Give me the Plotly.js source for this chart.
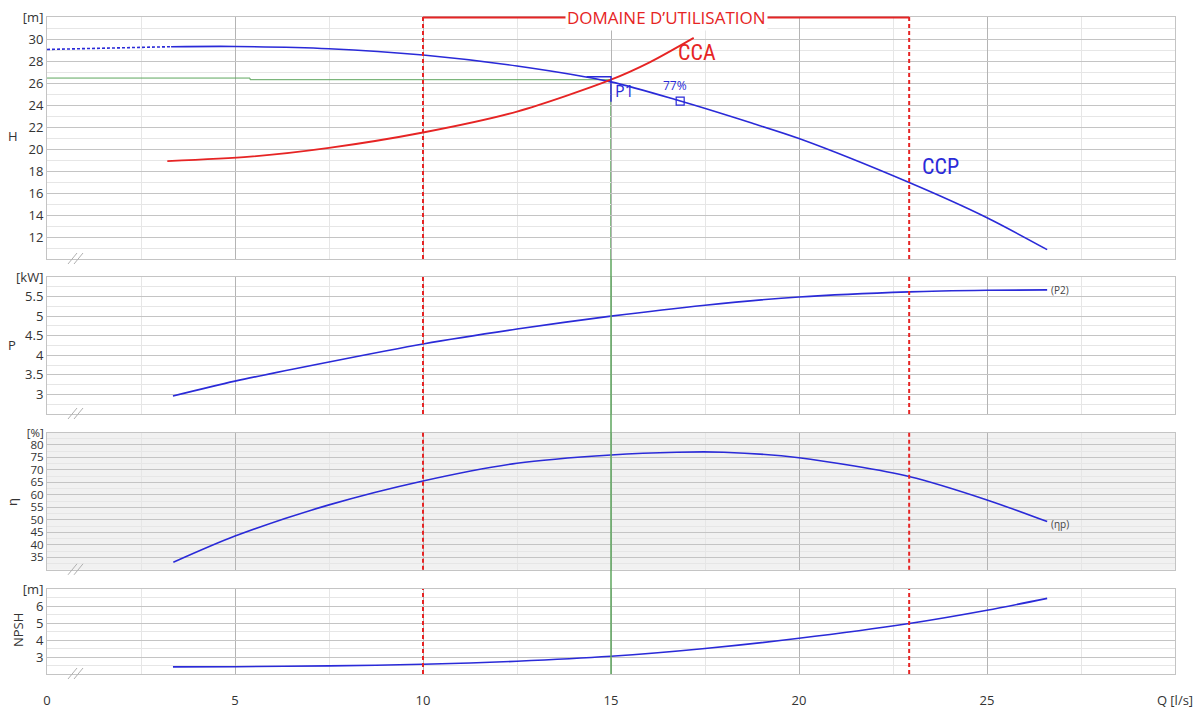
<!DOCTYPE html>
<html>
<head>
<meta charset="utf-8">
<script src="https://cdn.plot.ly/plotly-3.0.1.min.js"></script>
<style>html,body{margin:0;padding:0;background:#fff;}#chart{width:1201px;height:715px;}</style>
</head>
<body>
<div id="chart"></div>
<script>
// ---- data ----
const qTicks = [0, 5, 10, 15, 20, 25, 30];
const qTickText = ['0', '5', '10', '15', '20', '25', 'Q [l/s]'];

// pump head curve (CCP)
const qH = [3.3, 5, 7.5, 10, 12.5, 15, 16.8, 18.7, 20, 22.93, 25, 26.6];
const hH = [29.3, 29.32, 29.12, 28.55, 27.55, 26.1, 24.4, 22.4, 20.95, 16.95, 13.75, 10.85];
// dashed extension of head curve
const qHd = [0, 3.3];
const hHd = [29.05, 29.3];

// system curve (CCA)
const qS = [3.2, 5.4, 7.5, 10, 12.5, 15, 16.04, 17.2];
const hS = [18.9, 19.3, 20.1, 21.5, 23.4, 26.3, 27.9, 30.1];

// power P2
const qP = [3.35, 5, 7.5, 10, 12.5, 15, 17.5, 20, 22.93, 25, 26.6];
const pP = [2.96, 3.34, 3.83, 4.29, 4.67, 5.0, 5.28, 5.49, 5.62, 5.66, 5.67];

// efficiency
const qE = [3.36, 5, 7.5, 10, 12.5, 15, 16.75, 18, 20, 22.95, 25, 26.6];
const eE = [33.0, 43.5, 56.0, 65.6, 72.7, 76.0, 77.1, 77.1, 74.9, 67.3, 58.0, 49.3];

// NPSH
const qN = [3.35, 5, 7.5, 10, 12.5, 15, 17.5, 20, 22.93, 25, 26.6];
const nN = [2.42, 2.43, 2.48, 2.57, 2.75, 3.04, 3.5, 4.1, 4.97, 5.75, 6.45];

// operating point and references
const qOp = 15;
const hOp = 26.2;
const qGreen = [-0.1, 5.4, 5.4, 15];
const hGreen = [26.45, 26.45, 26.3, 26.3];
const qTol = [14.35, 15, 15];
const hTol = [26.57, 26.57, 24.3];
const qBest = [16.84];
const hBest = [24.36];
const domainQ = [10, 22.93];

const hTicks = [12, 14, 16, 18, 20, 22, 24, 26, 28, 30, 32];
const hTickText = ['12', '14', '16', '18', '20', '22', '24', '26', '28', '30', '[m]'];
const pTicks = [3, 3.5, 4, 4.5, 5, 5.5, 6];
const pTickText = ['3', '3.5', '4', '4.5', '5', '5.5', '[kW]'];
const eTicks = [35, 40, 45, 50, 55, 60, 65, 70, 75, 80, 85];
const eTickText = ['35', '40', '45', '50', '55', '60', '65', '70', '75', '80', '[%]'];
const nTicks = [3, 4, 5, 6, 7];
const nTickText = ['3', '4', '5', '6', '[m]'];

// ---- styling ----
const BLUE = '#2a2ad8';
const RED = '#e62424';
const GREEN = '#5ea65e';
const GRID = '#c4c4c4';
const MINOR = '#e6e6e6';
const BORDER = '#c4c4c4';
const FONT = 'Open Sans, Noto Sans, DejaVu Sans, sans-serif';

const H_RANGE = [10, 32], P_RANGE = [2.5, 6.0], E_RANGE = [30, 85], N_RANGE = [2, 7];

const PT = 17, PB = 674; // plot area top/bottom in px
const py = v => (PB - v) / (PB - PT);
const px = v => (v - 47) / 1128;

const xBase = {
  range: [0, 30], tickmode: 'array', tickvals: qTicks, ticktext: qTickText,
  showgrid: true, gridcolor: '#b4b4b4', gridwidth: 1, zeroline: false,
  showline: true, mirror: true, linecolor: BORDER, linewidth: 1,
  minor: {tickmode: 'linear', tick0: 0, dtick: 2.5, showgrid: true, gridcolor: MINOR, gridwidth: 1},
  ticks: '', fixedrange: true
};
function yAx(domain, range, tv, tt, dminor, fs) {
  return {
    domain: domain, range: range, tickmode: 'array', tickvals: tv, ticktext: tt,
    showgrid: true, gridcolor: GRID, gridwidth: 1, zeroline: false,
    showline: true, mirror: true, linecolor: BORDER, linewidth: 1,
    minor: {tickmode: 'linear', tick0: 0, dtick: dminor, showgrid: true, gridcolor: MINOR, gridwidth: 1},
    ticks: '', tickfont: {size: fs || 13, color: '#333'}, fixedrange: true
  };
}

function line(x, y, xa, ya, color, width, dash, shape) {
  return {type: 'scatter', mode: 'lines', x: x, y: y, xaxis: xa, yaxis: ya,
    line: {color: color, width: width, dash: dash || 'solid', shape: shape || 'linear', smoothing: 0.8},
    hoverinfo: 'skip', showlegend: false, cliponaxis: false};
}

const traces = [
  line(qGreen, hGreen, 'x', 'y', GREEN, 1),
  line(qHd, hHd, 'x', 'y', BLUE, 1.6, '3px,2px'),
  line(qH, hH, 'x', 'y', BLUE, 1.6, 'solid', 'spline'),
  line(qS, hS, 'x', 'y', RED, 1.8, 'solid', 'spline'),
  line(qTol, hTol, 'x', 'y', BLUE, 1.4),
  {type: 'scatter', mode: 'markers', x: qBest, y: hBest, xaxis: 'x', yaxis: 'y',
    marker: {symbol: 'square-open', size: 8, color: BLUE, line: {width: 1.2, color: BLUE}},
    hoverinfo: 'skip', showlegend: false},
  line(qP, pP, 'x2', 'y2', BLUE, 1.6, 'solid', 'spline'),
  line(qE, eE, 'x3', 'y3', BLUE, 1.6, 'solid', 'spline'),
  line(qN, nN, 'x4', 'y4', BLUE, 1.6, 'solid', 'spline')
];

const domH = [py(259), 1], domP = [py(414), py(277)], domE = [py(569.8), py(432.5)], domN = [0, py(589)];

const shapes = [];
// efficiency panel background
shapes.push({type: 'rect', xref: 'x3 domain', yref: 'y3 domain', x0: 0, x1: 1, y0: 0, y1: 1,
  fillcolor: '#f1f1f1', line: {width: 0}, layer: 'below'});
// red dashed limits in each panel
[['x', 'y'], ['x2', 'y2'], ['x3', 'y3'], ['x4', 'y4']].forEach(([xa, ya]) => {
  domainQ.forEach(q => shapes.push({type: 'line', xref: xa, yref: ya + ' domain', x0: q, x1: q, y0: 0, y1: 1,
    line: {color: RED, width: 2, dash: '4px,3px'}}));
});
// red bracket at top (drawn in paper space so it sits over the frame)
shapes.push({type: 'line', xref: 'x', yref: 'paper', x0: domainQ[0], x1: domainQ[1], y0: py(17.5), y1: py(17.5),
  line: {color: RED, width: 2}});
// green vertical at operating flow
shapes.push({type: 'line', xref: 'x', yref: 'y', x0: qOp, x1: qOp, y0: H_RANGE[0], y1: 26.3,
  line: {color: GREEN, width: 1.5}, layer: 'below'});
shapes.push({type: 'line', xref: 'x', yref: 'paper', x0: qOp, x1: qOp, y0: 0, y1: domH[0],
  line: {color: GREEN, width: 1.5}});
// axis break marks
[259, 414, 569.8, 674].forEach(yb => {
  [[68, 77], [74, 83]].forEach(([a, b]) => shapes.push({type: 'line', xref: 'paper', yref: 'paper',
    x0: px(a), x1: px(b), y0: py(yb + 5), y1: py(yb - 6), line: {color: '#b0b0b0', width: 1}}));
});

const annotations = [
  {xref: 'x', yref: 'paper', x: (domainQ[0] + domainQ[1]) / 2, y: py(17.5), text: 'DOMAINE D\u2019UTILISATION',
    showarrow: false, font: {family: FONT, size: 17, color: RED}, bgcolor: '#ffffff', borderpad: 1,
    xanchor: 'center', yanchor: 'middle'},
  {xref: 'x', yref: 'y', x: 16.72, y: 28.75, text: 'CCA', showarrow: false,
    font: {family: 'Liberation Sans Narrow, Arial Narrow, Roboto Condensed, sans-serif', size: 22, color: RED},
    xanchor: 'left', yanchor: 'middle'},
  {xref: 'x', yref: 'y', x: 23.22, y: 18.45, text: 'CCP', showarrow: false,
    font: {family: 'Liberation Sans Narrow, Arial Narrow, Roboto Condensed, sans-serif', size: 22, color: BLUE},
    xanchor: 'left', yanchor: 'middle'},
  {xref: 'x', yref: 'y', x: 15.05, y: 25.3, text: 'P1', showarrow: false,
    font: {family: FONT, size: 16, color: BLUE}, xanchor: 'left', yanchor: 'middle'},
  {xref: 'x', yref: 'y', x: 16.7, y: 25.75, text: '77%', showarrow: false,
    font: {family: FONT, size: 12, color: BLUE}, xanchor: 'center', yanchor: 'middle'},
  {xref: 'x2', yref: 'y2', x: 26.65, y: pP[pP.length - 1], text: '(P2)', showarrow: false,
    font: {family: FONT, size: 10, color: '#444'}, xanchor: 'left', yanchor: 'middle'},
  {xref: 'x3', yref: 'y3', x: 26.65, y: eE[eE.length - 1] - 0.8, text: '(\u03B7p)', showarrow: false,
    font: {family: FONT, size: 10, color: '#444'}, xanchor: 'left', yanchor: 'middle'},
  {xref: 'paper', yref: 'paper', x: px(13), y: py(136), text: 'H', showarrow: false,
    font: {family: FONT, size: 13, color: '#333'}, xanchor: 'center', yanchor: 'middle'},
  {xref: 'paper', yref: 'paper', x: px(12), y: py(345), text: 'P', showarrow: false,
    font: {family: FONT, size: 13, color: '#333'}, xanchor: 'center', yanchor: 'middle'},
  {xref: 'paper', yref: 'paper', x: px(12), y: py(502), text: '\u03B7', showarrow: false, textangle: -90,
    font: {family: FONT, size: 13, color: '#333'}, xanchor: 'center', yanchor: 'middle'},
  {xref: 'paper', yref: 'paper', x: px(18), y: py(630), text: 'NPSH', showarrow: false, textangle: -90,
    font: {family: FONT, size: 13, color: '#333'}, xanchor: 'center', yanchor: 'middle'}
];

const layout = {
  width: 1201, height: 715,
  margin: {l: 47, r: 26, t: PT, b: 715 - PB, pad: 0},
  paper_bgcolor: '#ffffff', plot_bgcolor: 'rgba(0,0,0,0)',
  showlegend: false,
  font: {family: FONT, size: 13, color: '#333'},
  xaxis: Object.assign({}, xBase, {anchor: 'y', showticklabels: false}),
  xaxis2: Object.assign({}, xBase, {anchor: 'y2', matches: 'x', showticklabels: false}),
  xaxis3: Object.assign({}, xBase, {anchor: 'y3', matches: 'x', showticklabels: false}),
  xaxis4: Object.assign({}, xBase, {anchor: 'y4', matches: 'x', showticklabels: true,
    tickfont: {size: 13, color: '#333'}, ticklabelstandoff: 14}),
  yaxis: Object.assign(yAx(domH, H_RANGE, hTicks, hTickText, 1), {anchor: 'x'}),
  yaxis2: Object.assign(yAx(domP, P_RANGE, pTicks, pTickText, 0.25), {anchor: 'x2'}),
  yaxis3: Object.assign(yAx(domE, E_RANGE, eTicks, eTickText, 2.5, 11.5), {anchor: 'x3'}),
  yaxis4: Object.assign(yAx(domN, N_RANGE, nTicks, nTickText, 0.5), {anchor: 'x4'}),
  shapes: shapes,
  annotations: annotations
};

Plotly.newPlot('chart', traces, layout, {staticPlot: true, displayModeBar: false});
</script>
</body>
</html>
